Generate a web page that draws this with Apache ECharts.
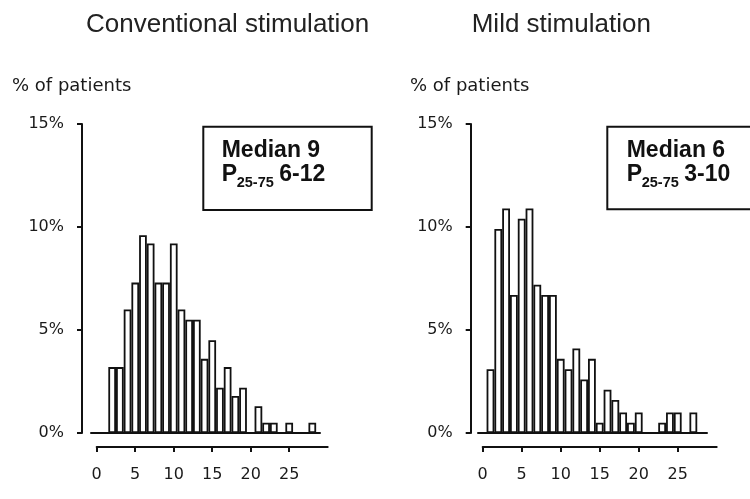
<!DOCTYPE html>
<html>
<head>
<meta charset="utf-8">
<script src="https://cdn.jsdelivr.net/npm/echarts@6/dist/echarts.min.js"></script>
<style>
  html, body { margin: 0; padding: 0; background: #fff; }
  #chart { width: 750px; height: 499px; }
</style>
</head>
<body>
<div id="chart"></div>
<script>
// Histogram bins (1..28) and share of patients per bin, in percent
const bins = [1, 2, 3, 4, 5, 6, 7, 8, 9, 10, 11, 12, 13, 14, 15, 16, 17, 18, 19, 20, 21, 22, 23, 24, 25, 26, 27, 28];
const conventionalPct = [0, 3.2, 3.2, 6.0, 7.3, 9.6, 9.2, 7.3, 7.3, 9.2, 6.0, 5.5, 5.5, 3.6, 4.5, 2.2, 3.2, 1.8, 2.2, 0, 1.3, 0.5, 0.5, 0, 0.5, 0, 0, 0.5];
const mildPct = [3.1, 9.9, 10.9, 6.7, 10.4, 10.9, 7.2, 6.7, 6.7, 3.6, 3.1, 4.1, 2.6, 3.6, 0.5, 2.1, 1.6, 1.0, 0.5, 1.0, 0, 0, 0.5, 1.0, 1.0, 0, 1.0, 0];

const xTicks = [0, 5, 10, 15, 20, 25];
const panelTitles = ['Conventional stimulation', 'Mild stimulation'];
const yAxisName = '% of patients';
const medians = ['Median 9', 'Median 6'];
const iqrLabel = 'P';
const iqrSub = '25-75';
const iqrRanges = ['6-12', '3-10'];

const INK = '#111';
const TICK_FONT = 'DejaVu Sans';

// Panel layout: bar grid (with its baseline), separate labelled x axis, y axis position, annotation box
const panels = [
  { barLeft: 91, barWidth: 229, xMin: -0.75, xMax: 29, axisLeft: 96.7, axisWidth: 231, yOffset: 9,
    titleX: 86, nameX: 12, box: { x: 203.3, y: 126.7, width: 168.4, height: 83.3 }, textX: 221.7,
    values: conventionalPct, barPx: 7.7 },
  { barLeft: 478, barWidth: 229, xMin: -0.6, xMax: 28.75, axisLeft: 482.7, axisWidth: 234, yOffset: 7.3,
    titleX: 471.7, nameX: 410, box: { x: 607.3, y: 126.7, width: 170, height: 82.6 }, textX: 626.7,
    values: mildPct, barPx: 7.8 }
];

const GRID_TOP = 124, GRID_H = 309;

const grids = [], xAxes = [], yAxes = [], series = [], graphics = [];

panels.forEach((p, i) => {
  const gBar = grids.length;
  grids.push({ left: p.barLeft, top: GRID_TOP, width: p.barWidth, height: GRID_H, outerBoundsMode: 'none' });
  const gAxis = grids.length;
  grids.push({ left: p.axisLeft, top: GRID_TOP, width: p.axisWidth, height: GRID_H, outerBoundsMode: 'none' });

  // baseline under the bars
  xAxes.push({
    type: 'value', gridIndex: gBar, min: p.xMin, max: p.xMax,
    axisLine: { show: true, onZero: false, lineStyle: { color: INK, width: 2 } },
    axisTick: { show: false }, axisLabel: { show: false }, splitLine: { show: false }
  });
  yAxes.push({
    type: 'value', gridIndex: gBar, min: 0, max: 15, interval: 5, offset: p.yOffset,
    axisLine: { show: true, onZero: false, lineStyle: { color: INK, width: 2 } },
    axisTick: { show: true, length: 5, lineStyle: { color: INK, width: 2 } },
    axisLabel: { formatter: '{value}%', margin: 18, color: '#1a1a1a', fontFamily: TICK_FONT, fontSize: 16 },
    splitLine: { show: false }
  });

  // labelled x axis below the baseline
  xAxes.push({
    type: 'value', gridIndex: gAxis, min: 0, max: 30, interval: 5, offset: 14,
    axisLine: { show: true, onZero: false, lineStyle: { color: INK, width: 2 } },
    axisTick: { show: true, length: 5, customValues: xTicks, lineStyle: { color: INK, width: 2 } },
    axisLabel: { customValues: xTicks, margin: 20, color: '#1a1a1a', fontFamily: TICK_FONT, fontSize: 16 },
    splitLine: { show: false }
  });
  yAxes.push({ type: 'value', gridIndex: gAxis, min: 0, max: 1, show: false });

  series.push({
    type: 'bar',
    xAxisIndex: gBar, yAxisIndex: gBar,
    barWidth: p.barPx,
    itemStyle: { color: '#fff', borderColor: INK, borderWidth: 1.8 },
    data: bins.map((b, k) => [b, p.values[k]]).filter(d => d[1] > 0)
  });

  const txt = (text, x, y, font, fill) => ({
    type: 'text', x: x, y: y, z: 10,
    style: { text: text, font: font, fill: fill, align: 'left', verticalAlign: 'middle',
             textAlign: 'left', textVerticalAlign: 'middle' }
  });

  graphics.push(txt(panelTitles[i], p.titleX, 25, '26px "Liberation Sans"', '#222'));
  graphics.push(txt(yAxisName, p.nameX, 86, '18px "DejaVu Sans"', '#1a1a1a'));
  graphics.push({
    type: 'rect', z: 5,
    shape: p.box,
    style: { fill: '#fff', stroke: INK, lineWidth: 2 }
  });
  graphics.push(txt(medians[i], p.textX, 151, 'bold 23px "Liberation Sans"', INK));
  graphics.push(txt(iqrLabel, p.textX, 175, 'bold 23px "Liberation Sans"', INK));
  graphics.push(txt(iqrSub, p.textX + 15, 183, 'bold 14.5px "Liberation Sans"', INK));
  graphics.push(txt(iqrRanges[i], p.textX + 57.5, 175, 'bold 23px "Liberation Sans"', INK));
});

const chart = echarts.init(document.getElementById('chart'), null, { renderer: 'canvas' });
chart.setOption({
  animation: false,
  backgroundColor: '#fff',
  grid: grids,
  xAxis: xAxes,
  yAxis: yAxes,
  series: series,
  graphic: { elements: graphics }
});
</script>
</body>
</html>
